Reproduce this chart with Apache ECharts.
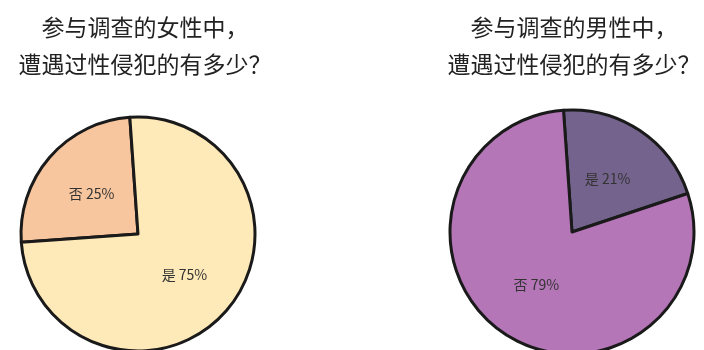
<!DOCTYPE html>
<html>
<head>
<meta charset="utf-8">
<script src="https://cdn.jsdelivr.net/npm/echarts@6/dist/echarts.min.js"></script>
<style>
  html, body { margin: 0; padding: 0; background: #fff; }
  #chart { width: 704px; height: 350px; }
</style>
</head>
<body>
<div id="chart"></div>
<script>
const womenTitle = '参与调查的女性中，\n遭遇过性侵犯的有多少？'
const menTitle = '参与调查的男性中，\n遭遇过性侵犯的有多少？'
const womenNames = ['否', '是']
const womenValues = [25, 75]
const menNames = ['是', '否']
const menValues = [21, 79]

const font = '"Noto Sans CJK SC", "Noto Sans", sans-serif'
const chart = echarts.init(document.getElementById('chart'))

function pieData(names, values, colors) {
  return names.map((name, i) => ({
    name,
    value: values[i],
    itemStyle: { color: colors[i] },
  }))
}

const titleStyle = { fontSize: 23, fontWeight: 'normal', color: '#222', lineHeight: 37, fontFamily: font }

const pieCommon = {
  type: 'pie',
  clockwise: true,
  silent: true,
  itemStyle: { borderColor: '#1a1a1a', borderWidth: 3 },
  label: {
    position: 'inside',
    formatter: '{b} {c}%',
    color: '#333',
    fontSize: 14,
    fontFamily: font,
  },
  labelLine: { show: false },
}

chart.setOption({
  animation: false,
  title: [
    { text: womenTitle, left: 140, top: 4, textAlign: 'center', textStyle: titleStyle },
    { text: menTitle, left: 569, top: 4, textAlign: 'center', textStyle: titleStyle },
  ],
  series: [
    {
      ...pieCommon,
      center: [138, 234],
      radius: 117,
      startAngle: 184,
      data: pieData(womenNames, womenValues, ['#f8c69e', '#fee9b8']),
    },
    {
      ...pieCommon,
      center: [572, 232],
      radius: 122,
      startAngle: 94,
      data: pieData(menNames, menValues, ['#74638d', '#b576b8']),
    },
  ],
})
</script>
</body>
</html>
